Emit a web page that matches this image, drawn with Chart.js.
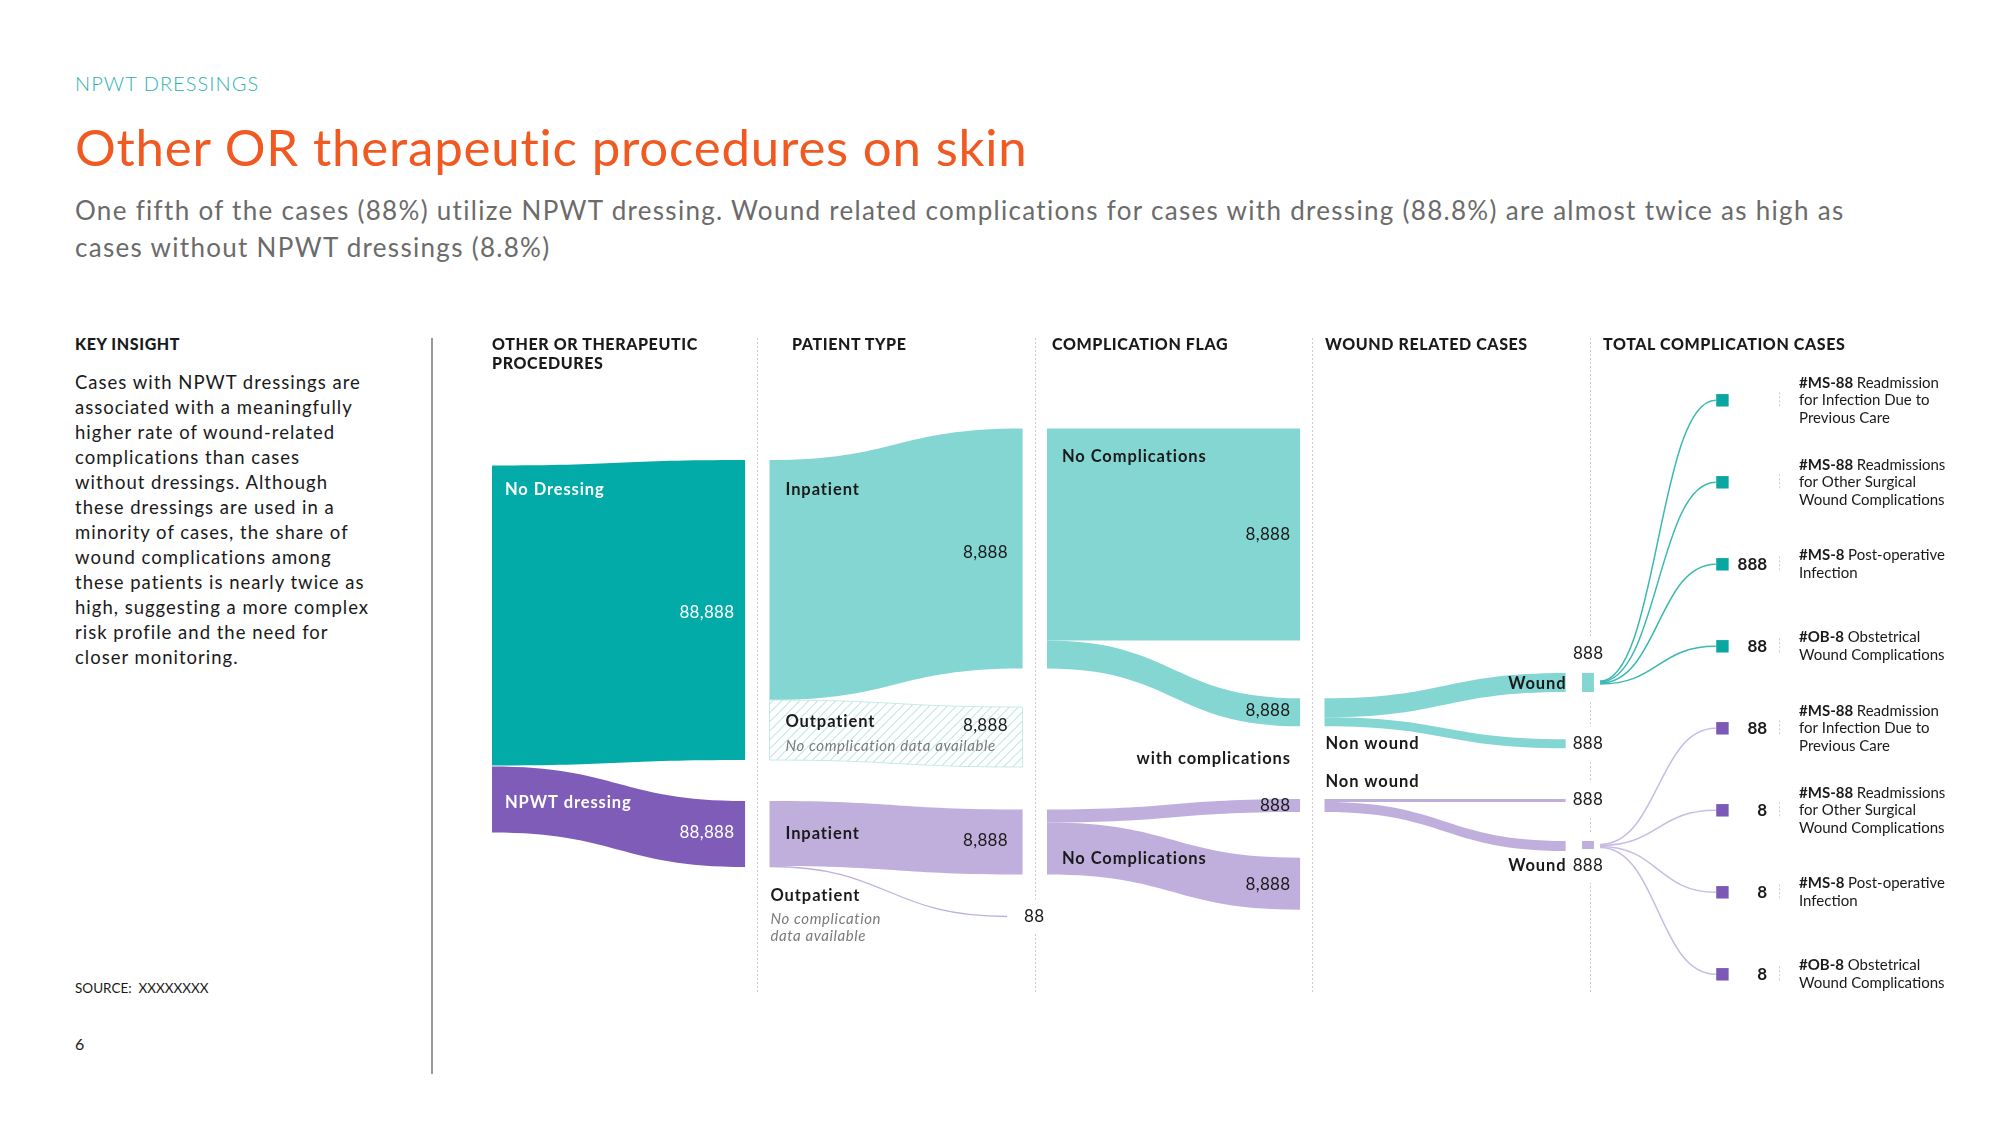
<!DOCTYPE html>
<html>
<head>
<meta charset="utf-8">
<title>NPWT dressings</title>
<script src="https://cdn.jsdelivr.net/npm/chart.js@4.4.1/dist/chart.umd.min.js"></script>
<style>
  html, body { margin: 0; padding: 0; background: #fff; }
  body { width: 2000px; height: 1125px; position: relative; overflow: hidden;
         font-family: Lato, 'Noto Sans', sans-serif; color: #1a1a1a; }
  #sankey { position: absolute; left: 0; top: 0; }
  .abs { position: absolute; white-space: nowrap; }
  .kicker { left: 75px; top: 70px; font-size: 20px; line-height: 26px; font-weight: 300; color: #2bb3ad; letter-spacing: 1.05px; }
  .title { left: 75px; top: 117px; font-size: 51px; line-height: 60px; color: #f05a22; letter-spacing: .8px; }
  .sub { left: 75px; top: 192px; font-size: 26px; line-height: 37px; color: #6b6b6b; letter-spacing: 1.3px; }
  .head { font-weight: 900; font-size: 16px; line-height: 18.5px; letter-spacing: .6px; top: 335px; }
  .body { left: 75px; top: 370px; font-size: 18.5px; line-height: 25px; letter-spacing: 1px; }
  .source { left: 75px; top: 979px; font-size: 13.5px; line-height: 18px; }
  .page { left: 75px; top: 1034px; font-size: 16px; line-height: 20px; }
  .rule { position: absolute; left: 431px; top: 338px; width: 1.5px; height: 736px; background: #9a9a9a; }
</style>
</head>
<body>
<div class="abs kicker">NPWT DRESSINGS</div>
<div class="abs title">Other OR therapeutic procedures on skin</div>
<div class="abs sub">One fifth of the cases (88%) utilize NPWT dressing. Wound related complications for cases with dressing (88.8%) are almost twice as high as<br>cases without NPWT dressings (8.8%)</div>
<div class="abs head" style="left:75px">KEY INSIGHT</div>
<div class="abs body">Cases with NPWT dressings are<br>associated with a meaningfully<br>higher rate of wound-related<br>complications than cases<br>without dressings. Although<br>these dressings are used in a<br>minority of cases, the share of<br>wound complications among<br>these patients is nearly twice as<br>high, suggesting a more complex<br>risk profile and the need for<br>closer monitoring.</div>
<div class="abs source">SOURCE:&nbsp; XXXXXXXX</div>
<div class="abs page">6</div>
<div class="rule"></div>
<canvas id="sankey" width="2000" height="1125"></canvas>
<div id="heads"></div>

<script>
// --- Data (band sizes, in relative case units) ---
const stageTitles = ['OTHER OR THERAPEUTIC<br>PROCEDURES', 'PATIENT TYPE', 'COMPLICATION FLAG', 'WOUND RELATED CASES', 'TOTAL COMPLICATION CASES'];

const procNames = ['No Dressing', 'NPWT dressing'];
const procValues = [3000, 660];
const procLabels = ['88,888', '88,888'];

const patientNames = ['Inpatient', 'Outpatient', 'Inpatient', 'Outpatient'];
const patientValues = [2400, 600, 650, 10];
const patientLabels = ['8,888', '8,888', '8,888', '88'];
const noDataNote = 'No complication data available';

// teal no-comp, teal with-comp, purple with-comp, purple no-comp
const flagNames = ['No Complications', 'with complications', '', 'No Complications'];
const flagValues = [2120, 280, 130, 520];
const flagLabels = ['8,888', '8,888', '888', '8,888'];

// teal wound, teal non wound, purple non wound, purple wound
const woundNames = ['Wound', 'Non wound', 'Non wound', 'Wound'];
const woundValues = [190, 90, 30, 100];
const woundLabels = ['888', '888', '888', '888'];

const complicationCodes = ['#MS-88', '#MS-88', '#MS-8', '#OB-8'];
const complicationNames = [
  ['Readmission', 'for Infection Due to', 'Previous Care'],
  ['Readmissions', 'for Other Surgical', 'Wound Complications'],
  ['Post-operative', 'Infection'],
  ['Obstetrical', 'Wound Complications']
];
const tealComplicationLabels = ['', '', '888', '88'];
const purpleComplicationLabels = ['88', '8', '8', '8'];

// --- Styles / layout ---
const C = {
  tealDark: '#02aba8', tealLight: '#84d6d3', purpleDark: '#7e5cb7', purpleLight: '#c0afdd',
  tealLine: '#3bb8b2', purpleLine: '#c9bce4', tealSq: '#0aa7a2', purpleSq: '#7c59b5',
  ink: '#1a1a1a', note: '#7a7a7a', hatch: '#a0dcd9', divider: '#cccccc'
};
const FONT = 'Lato, "Noto Sans", sans-serif';

const layout = {
  headX: [492, 792, 1052, 1325, 1603],
  colSpan: [0.912, 0.912, 0.912, 0.869],
  dividerAt: 0.955,
  dividerY: [-620, 5920],
  nodeTop: {
    nd0: 655, np0: 3665,
    nd1: 600, np1: 4010,
    ipT: 285, opT: 3070, ipP: 4095, opP: 5160,
    ncT: 285, wcT: 2983, wcP: 3990, ncP: 4577,
    wT: 2730, nwT: 3393, nwP: 3990, wP: 4410
  },
  opEndSpan: 0.856,
  woundNodeX: [3.928, 3.971],
  fanStartX: 3.993,
  squareLeftX: 4.41,
  squareX: 4.434,
  valueX: 4.595,
  tickX: 4.638,
  textX: 4.71,
  rowTop: 3,
  rowStep: 820
};

// column headers
stageTitles.forEach((t, i) => {
  const d = document.createElement('div');
  d.className = 'abs head';
  d.style.left = layout.headX[i] + 'px';
  d.innerHTML = t;
  document.getElementById('heads').appendChild(d);
});

const links = [
  { col: 0, from: 'nd0', to: 'nd1', value: procValues[0], color: C.tealDark },
  { col: 0, from: 'np0', to: 'np1', value: procValues[1], color: C.purpleDark },
  { col: 1, from: 'nd1', to: 'ipT', value: patientValues[0], color: C.tealLight },
  { col: 1, from: 'nd1', to: 'opT', value: patientValues[1], color: C.tealLight, hatch: true },
  { col: 1, from: 'np1', to: 'ipP', value: patientValues[2], color: C.purpleLight },
  { col: 1, from: 'np1', to: 'opP', value: patientValues[3], color: C.purpleLight, line: true },
  { col: 2, from: 'ipT', to: 'ncT', value: flagValues[0], color: C.tealLight },
  { col: 2, from: 'ipT', to: 'wcT', value: flagValues[1], color: C.tealLight },
  { col: 2, from: 'ipP', to: 'wcP', value: flagValues[2], color: C.purpleLight },
  { col: 2, from: 'ipP', to: 'ncP', value: flagValues[3], color: C.purpleLight },
  { col: 3, from: 'wcT', to: 'wT', value: woundValues[0], color: C.tealLight },
  { col: 3, from: 'wcT', to: 'nwT', value: woundValues[1], color: C.tealLight },
  { col: 3, from: 'wcP', to: 'nwP', value: woundValues[2], color: C.purpleLight },
  { col: 3, from: 'wcP', to: 'wP', value: woundValues[3], color: C.purpleLight }
];

const bold = s => '700 ' + s + 'px ' + FONT;
const reg = s => '400 ' + s + 'px ' + FONT;
const ital = s => 'italic 400 ' + s + 'px ' + FONT;

// label placement for each band, keyed by target node
const bandText = {
  nd1: { name: [procNames[0], 'leftTop', 13, 24], value: [procLabels[0], 'rightMid', -11, 3], light: true },
  np1: { name: [procNames[1], 'leftMid', 13, 3.5], value: [procLabels[1], 'rightMid', -11, -1], light: true },
  ipT: { name: [patientNames[0], 'leftTop', 16, 30], value: [patientLabels[0], 'rightMid', -15, 4] },
  opT: { name: [patientNames[1], 'leftMid', 16, -8], value: [patientLabels[1], 'leftMid', 238, -4],
         sub: [[noDataNote], 'leftMid', 16, 16] },
  ipP: { name: [patientNames[2], 'leftMid', 16, 0], value: [patientLabels[2], 'rightMid', -15, -1] },
  opP: { name: [patientNames[3], 'leftTop', 1, 30], value: [patientLabels[3], 'rightMid', 27, 0, 'center', true],
         sub: [['No complication', 'data available'], 'leftTop', 1, 53] },
  ncT: { name: [flagNames[0], 'leftTop', 15, 28], value: [flagLabels[0], 'rightMid', -10, 0] },
  wcT: { name: [flagNames[1], 'rightBottom', -10, 32, 'right'], value: [flagLabels[1], 'rightMid', -10, -2] },
  wcP: { value: [flagLabels[2], 'rightMid', -10, 0] },
  ncP: { name: [flagNames[3], 'leftMid', 15, 10], value: [flagLabels[3], 'rightMid', -10, 1] },
  wT: { name: [woundNames[0], 'rightMid', 0, 1.5, 'right'], value: [woundLabels[0], 'node', 0, -19, 'center', true] },
  nwT: { name: [woundNames[1], 'leftRight', 1, 0], value: [woundLabels[1], 'rightMid', 7, 0, 'left', true] },
  nwP: { name: [woundNames[2], 'leftTop', 1, -17], value: [woundLabels[2], 'rightMid', 7, -1, 'left', true] },
  wP: { name: [woundNames[3], 'rightBottom', 0, 15, 'right'], value: [woundLabels[3], 'rightBottom', 7, 15, 'left', true] }
};

function geometry(chart) {
  const x = chart.scales.x, y = chart.scales.y;
  const outUsed = {}, inUsed = {};
  return links.map(l => {
    const s0 = layout.nodeTop[l.from] + (outUsed[l.from] || 0);
    const t0 = layout.nodeTop[l.to] + (inUsed[l.to] || 0);
    outUsed[l.from] = (outUsed[l.from] || 0) + l.value;
    inUsed[l.to] = (inUsed[l.to] || 0) + l.value;
    const span = l.line ? layout.opEndSpan : layout.colSpan[l.col];
    return Object.assign({}, l, {
      xa: x.getPixelForValue(l.col), xb: x.getPixelForValue(l.col + span),
      ya0: y.getPixelForValue(s0), ya1: y.getPixelForValue(s0 + l.value),
      yb0: y.getPixelForValue(t0), yb1: y.getPixelForValue(t0 + l.value)
    });
  });
}

function bandPath(ctx, g) {
  const xm = (g.xa + g.xb) / 2;
  ctx.beginPath();
  ctx.moveTo(g.xa, g.ya0);
  ctx.bezierCurveTo(xm, g.ya0, xm, g.yb0, g.xb, g.yb0);
  ctx.lineTo(g.xb, g.yb1);
  ctx.bezierCurveTo(xm, g.yb1, xm, g.ya1, g.xa, g.ya1);
  ctx.closePath();
}

function anchor(g, kind, chart) {
  switch (kind) {
    case 'leftTop': return [g.xa, g.ya0];
    case 'leftMid': return [g.xa, (g.ya0 + g.ya1) / 2];
    case 'leftRight': return [g.xa, (g.yb0 + g.yb1) / 2];
    case 'rightMid': return [g.xb, (g.yb0 + g.yb1) / 2];
    case 'rightBottom': return [g.xb, g.yb1];
    case 'node': {
      const x = chart.scales.x;
      return [(x.getPixelForValue(layout.woundNodeX[0]) + x.getPixelForValue(layout.woundNodeX[1])) / 2, g.yb0];
    }
  }
  return [g.xa, g.ya0];
}

function text(ctx, str, px, py, font, color, align, clearBg, spacing) {
  ctx.font = font;
  ctx.letterSpacing = (spacing || 0) + 'px';
  ctx.textAlign = align || 'left';
  ctx.textBaseline = 'middle';
  // trailing letter spacing would shift right-aligned text
  const shift = align === 'right' ? (spacing || 0) : align === 'center' ? (spacing || 0) / 2 : 0;
  if (clearBg) {
    const w = ctx.measureText(str).width;
    const left = align === 'right' ? px - w : align === 'center' ? px - w / 2 : px;
    ctx.fillStyle = '#fff';
    ctx.fillRect(left - 3, py - 17, w + 6, 34);
  }
  ctx.fillStyle = color;
  ctx.fillText(str, px + shift, py);
  ctx.letterSpacing = '0px';
}

const rowY = i => layout.rowTop + i * layout.rowStep;

const sankeyPlugin = {
  id: 'sankeyBands',
  beforeDatasetsDraw(chart) {
    const { ctx } = chart;
    const x = chart.scales.x, y = chart.scales.y;
    const geo = geometry(chart);
    ctx.save();

    // dotted column dividers
    ctx.strokeStyle = C.divider;
    ctx.lineWidth = 1;
    ctx.setLineDash([2, 2]);
    for (let k = 0; k < 4; k++) {
      const px = Math.round(x.getPixelForValue(k + layout.dividerAt)) + 0.5;
      ctx.beginPath();
      ctx.moveTo(px, y.getPixelForValue(layout.dividerY[0]));
      ctx.lineTo(px, y.getPixelForValue(layout.dividerY[1]));
      ctx.stroke();
    }
    // short dotted ticks between value and name of each complication row
    const tx = Math.round(x.getPixelForValue(layout.tickX)) + 0.5;
    for (let i = 0; i < 8; i++) {
      const py = y.getPixelForValue(rowY(i));
      ctx.beginPath();
      ctx.moveTo(tx, py - 8);
      ctx.lineTo(tx, py + 8);
      ctx.stroke();
    }
    ctx.setLineDash([]);

    // white gaps in the last divider around the wound nodes
    const nx0 = x.getPixelForValue(layout.woundNodeX[0]), nx1 = x.getPixelForValue(layout.woundNodeX[1]);
    ['wT', 'wP'].forEach(id => {
      const g = geo.find(l => l.to === id);
      ctx.fillStyle = '#fff';
      ctx.fillRect(nx0 - 4, g.yb0 - 9, nx1 - nx0 + 8, g.yb1 - g.yb0 + 18);
    });

    // bands
    geo.forEach(g => {
      if (g.line) {
        const xm = (g.xa + g.xb) / 2;
        const ya = (g.ya0 + g.ya1) / 2, yb = (g.yb0 + g.yb1) / 2;
        ctx.strokeStyle = g.color;
        ctx.lineWidth = 1.3;
        ctx.beginPath();
        ctx.moveTo(g.xa, ya);
        ctx.bezierCurveTo(xm, ya, xm, yb, g.xb, yb);
        ctx.stroke();
        return;
      }
      bandPath(ctx, g);
      if (g.hatch) {
        ctx.save();
        ctx.clip();
        ctx.strokeStyle = C.hatch;
        ctx.lineWidth = 1;
        const top = Math.min(g.ya0, g.yb0) - 5, bot = Math.max(g.ya1, g.yb1) + 5;
        for (let sx = g.xa - (bot - top); sx < g.xb + 10; sx += 9) {
          ctx.beginPath();
          ctx.moveTo(sx, bot);
          ctx.lineTo(sx + (bot - top), top);
          ctx.stroke();
        }
        ctx.restore();
        bandPath(ctx, g);
        ctx.strokeStyle = '#c6e9e7';
        ctx.lineWidth = 1;
        ctx.stroke();
      } else {
        ctx.fillStyle = g.color;
        ctx.fill();
      }
    });

    // wound nodes and fan lines to the complication squares
    const fx = x.getPixelForValue(layout.fanStartX), ex = x.getPixelForValue(layout.squareLeftX);
    [['wT', C.tealLight, C.tealLine, 0], ['wP', C.purpleLight, C.purpleLine, 4]].forEach(([id, fill, stroke, first]) => {
      const g = geo.find(l => l.to === id);
      ctx.fillStyle = fill;
      ctx.fillRect(nx0, g.yb0, nx1 - nx0, g.yb1 - g.yb0);
      const cy = (g.yb0 + g.yb1) / 2;
      ctx.strokeStyle = stroke;
      ctx.lineWidth = 1.5;
      for (let i = 0; i < 4; i++) {
        const sy = cy + (i - 1.5) * 1;
        const ey = y.getPixelForValue(rowY(first + i));
        const xm = (fx + ex) / 2;
        ctx.beginPath();
        ctx.moveTo(fx, sy);
        ctx.bezierCurveTo(xm, sy, xm, ey, ex, ey);
        ctx.stroke();
      }
    });
    ctx.restore();
  },

  afterDatasetsDraw(chart) {
    const { ctx } = chart;
    const x = chart.scales.x, y = chart.scales.y;
    const geo = geometry(chart);
    ctx.save();

    geo.forEach(g => {
      const spec = bandText[g.to];
      if (!spec) return;
      const ink = spec.light ? '#ffffff' : C.ink;
      if (spec.name) {
        const [str, a, dx, dy, align] = spec.name;
        const [ax, ay] = anchor(g, a, chart);
        text(ctx, str, ax + dx, ay + dy, bold(16.5), ink, align, false, 0.9);
      }
      if (spec.value) {
        const [str, a, dx, dy, align, clear] = spec.value;
        const [ax, ay] = anchor(g, a, chart);
        text(ctx, str, ax + dx, ay + dy, reg(17), ink, align || 'right', clear, 0.3);
      }
      if (spec.sub) {
        const [lines, a, dx, dy] = spec.sub;
        const [ax, ay] = anchor(g, a, chart);
        lines.forEach((s, i) => text(ctx, s, ax + dx, ay + dy + i * 17, ital(15), C.note, 'left', false, 0.6));
      }
    });

    // complication rows: counts and names
    const vx = x.getPixelForValue(layout.valueX), lx = x.getPixelForValue(layout.textX);
    const counts = tealComplicationLabels.concat(purpleComplicationLabels);
    for (let i = 0; i < 8; i++) {
      const py = y.getPixelForValue(rowY(i));
      if (counts[i]) text(ctx, counts[i], vx, py, bold(17), C.ink, 'right');
      const k = i % 4;
      const lines = complicationNames[k];
      const lh = 17.5;
      const y0 = py - (lines.length - 1) * lh / 2;
      ctx.font = bold(15);
      ctx.letterSpacing = '0px';
      const cw = ctx.measureText(complicationCodes[k] + ' ').width;
      text(ctx, complicationCodes[k], lx, y0, bold(15), C.ink, 'left');
      lines.forEach((s, j) => text(ctx, s, j === 0 ? lx + cw : lx, y0 + j * lh, reg(15), C.ink, 'left'));
    }
    ctx.restore();
  }
};

const squarePoints = complicationCodes.concat(complicationCodes).map((c, i) => ({ x: layout.squareX, y: rowY(i) }));
const squareColors = squarePoints.map((p, i) => (i < 4 ? C.tealSq : C.purpleSq));

new Chart(document.getElementById('sankey'), {
  type: 'scatter',
  data: {
    datasets: [{
      data: squarePoints,
      pointStyle: 'rect',
      pointRadius: 8.8,
      pointHoverRadius: 8.8,
      pointBackgroundColor: squareColors,
      pointBorderWidth: 0,
      clip: false
    }]
  },
  options: {
    responsive: false,
    animation: false,
    events: [],
    layout: { padding: { left: 492, right: 120.5, top: 400, bottom: 125 } },
    scales: {
      x: { type: 'linear', min: 0, max: 5, display: false },
      y: { type: 'linear', min: 0, max: 6000, reverse: true, display: false }
    },
    plugins: { legend: { display: false }, tooltip: { enabled: false } }
  },
  plugins: [sankeyPlugin]
});
</script>
</body>
</html>
